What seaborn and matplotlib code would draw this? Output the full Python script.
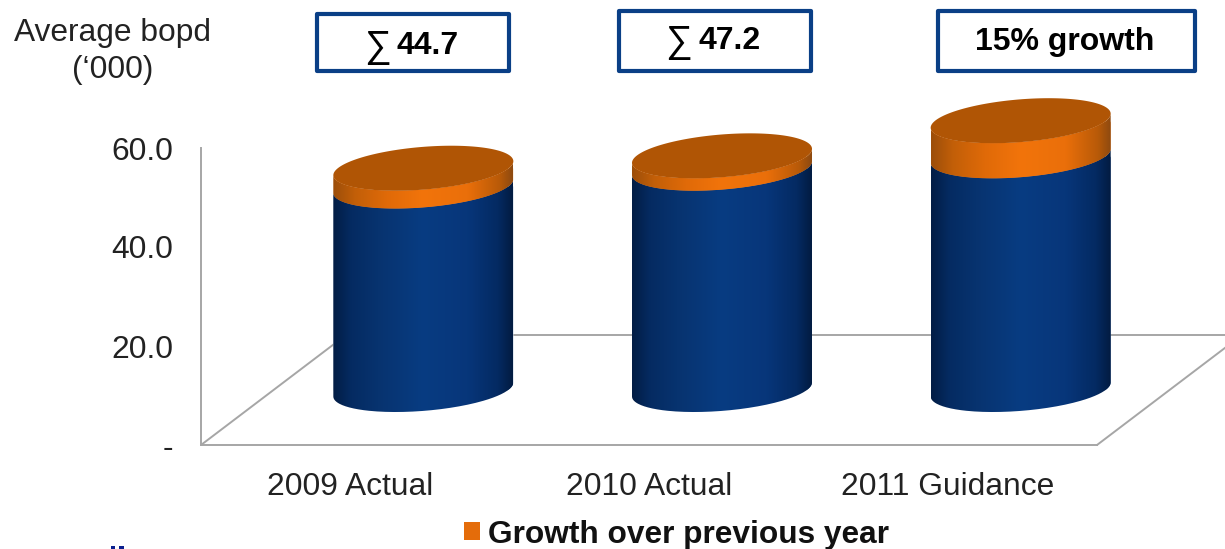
import numpy as np
import pandas as pd
import matplotlib
matplotlib.use("Agg")
import matplotlib.pyplot as plt
import seaborn as sns
from matplotlib.colors import LinearSegmentedColormap
from matplotlib.patches import PathPatch, Patch, Polygon, Rectangle
from matplotlib.path import Path
from matplotlib.transforms import Affine2D

# Production, thousand barrels of oil per day
categories = ["2009 Actual", "2010 Actual", "2011 Guidance"]
base_values = [41.1, 44.7, 47.2]
growth_values = [3.6, 2.5, 7.1]
y_ticks = [0, 20, 40, 60]
callouts = ["44.7", "47.2", "15% growth"]
legend_label = "Growth over previous year"

W, H = 1225, 549
FONT_PT = 22.9
GRAY = "#a6a6a6"
TEXT = "#222222"
NAVY = "#0a3f86"
ORANGE = "#e46c0a"
TOP = "#b05505"

sns.set_theme(style="white")
plt.rcParams["font.family"] = ["Liberation Sans", "DejaVu Sans"]

fig = plt.figure(figsize=(W / 100, H / 100), dpi=100, facecolor="white")
AX_L, AX_R, AX_T, AX_B = 201, 1097, 148, 445
ax = fig.add_axes([AX_L / W, 1 - AX_B / H, (AX_R - AX_L) / W, (AX_B - AX_T) / H])

totals = [b + g for b, g in zip(base_values, growth_values)]
frame = pd.DataFrame({"category": categories, "base": base_values, "total": totals})

BAR_WIDTH = 180 / ((AX_R - AX_L) / 3)
sns.barplot(data=frame, x="category", y="total", order=categories, color=ORANGE,
            saturation=1, width=BAR_WIDTH, errorbar=None, ax=ax, legend=False)
sns.barplot(data=frame, x="category", y="base", order=categories, color="#083c82",
            saturation=1, width=BAR_WIDTH, errorbar=None, ax=ax, legend=False)

ax.set_xlim(-0.5, 2.5)
ax.set_ylim(0, 60)
ax.set_autoscale_on(False)
ax.set_xlabel("")
ax.set_ylabel("")
ax.patch.set_alpha(0)

# Data units per pixel, used for the pseudo-3D depth and the elliptical ends
ux = 3 / (AX_R - AX_L)
uy = 60 / (AX_B - AX_T)

ax.set_yticks(y_ticks)
ax.set_yticklabels(["-" if v == 0 else f"{v:.1f}" for v in y_ticks])
ax.tick_params(axis="y", length=0, pad=20, labelsize=FONT_PT, labelcolor=TEXT)
ax.tick_params(axis="x", length=0, pad=19.5, labelsize=FONT_PT, labelcolor=TEXT)
for side in ("top", "right"):
    ax.spines[side].set_visible(False)
for side in ("left", "bottom"):
    ax.spines[side].set_color(GRAY)
    ax.spines[side].set_linewidth(1.4)

# Floor of the chart, receding behind the category axis
DEPTH_X, DEPTH_Y = 145 * ux, 110 * uy
floor_x = [-0.5, -0.5 + DEPTH_X, 2.5 + DEPTH_X, 2.5]
floor_y = [0, DEPTH_Y, DEPTH_Y, 0]
ax.plot(floor_x, floor_y, color=GRAY, lw=1.4, clip_on=False, zorder=0.5)

# Cylinders stand midway between the axis and the back of the floor
SHIFT_X, SHIFT_Y = 73 * ux, 55.5 * uy
HALF_W = 90 * ux
SLANT = 7 * uy
MINOR = 21.4 * uy

blue_ramp = LinearSegmentedColormap.from_list("side_blue", [
    (0.0, "#021d45"), (0.10, "#052b62"), (0.25, "#07336f"), (0.50, "#083c82"),
    (0.75, "#07367a"), (0.92, "#042a62"), (1.0, "#021c42")])
orange_ramp = LinearSegmentedColormap.from_list("side_orange", [
    (0.0, "#9c4e0a"), (0.12, "#c25f08"), (0.30, "#e06a08"), (0.50, "#f2740b"),
    (0.75, "#ea6f0a"), (0.93, "#b85a08"), (1.0, "#8f4a10")])
shading = np.linspace(0, 1, 400)[None, :]


def rim(cx, cy, t):
    return np.column_stack([cx + HALF_W * np.cos(t),
                            cy + SLANT * np.cos(t) + MINOR * np.sin(t)])


def shade_side(bar, cx, low, high, cmap, z):
    lower = np.linspace(np.pi, 2 * np.pi, 120)
    outline = np.vstack([rim(cx, low, lower), rim(cx, high, lower)[::-1]])
    clip = PathPatch(Path(outline), transform=ax.transData)
    bar.set_transform(Affine2D().translate(SHIFT_X, SHIFT_Y) + ax.transData)
    bar.set_clip_box(fig.bbox)
    bar.set_clip_path(clip)
    img = ax.imshow(shading, cmap=cmap, aspect="auto", interpolation="bilinear",
                    extent=(cx - HALF_W, cx + HALF_W, low - 5 * MINOR, high + 5 * MINOR),
                    zorder=z)
    img.set_clip_box(fig.bbox)
    img.set_clip_path(clip)


orange_bars = ax.patches[:3]
blue_bars = ax.patches[3:6]
for i in range(len(categories)):
    blue, orange = blue_bars[i], orange_bars[i]
    cx = blue.get_x() + blue.get_width() / 2 + SHIFT_X
    floor_level = SHIFT_Y
    mid_level = blue.get_height() + SHIFT_Y
    top_level = orange.get_height() + SHIFT_Y
    shade_side(blue, cx, floor_level, mid_level, blue_ramp, 2)
    shade_side(orange, cx, mid_level, top_level, orange_ramp, 3)
    whole = np.linspace(0, 2 * np.pi, 240)
    ax.add_patch(Polygon(rim(cx, top_level, whole), closed=True, facecolor=TOP,
                         edgecolor="none", clip_on=False, zorder=4))
ax.set_xlim(-0.5, 2.5)
ax.set_ylim(0, 60)


def fx(px):
    return px / W


def fy(px):
    return 1 - px / H


# Unit caption above the value axis
fig.text(fx(113), fy(33), "Average bopd", ha="center", va="center",
         fontsize=FONT_PT, color=TEXT)
fig.text(fx(113), fy(70), "(‘000)", ha="center", va="center",
         fontsize=FONT_PT, color=TEXT)

# Callout boxes over each cylinder; the first two carry a thin sum sign
box_spans = [(317, 509, 14, 71), (619, 811, 11, 71), (938, 1195, 11, 71)]
text_centres = [(428, 46), (730, 41), (1065, 42)]
sum_centres = [(377, 47), (679, 42), None]
for (x0, x1, y0, y1), (tx, ty), sx, label in zip(box_spans, text_centres, sum_centres, callouts):
    fig.add_artist(Rectangle((fx(x0), fy(y1)), (x1 - x0) / W, (y1 - y0) / H,
                             transform=fig.transFigure, facecolor="white",
                             edgecolor=NAVY, linewidth=3.0, joinstyle="round"))
    fig.text(fx(tx), fy(ty), label, ha="center", va="center", fontsize=23,
             fontweight="bold", color="black")
    if sx is not None:
        fig.text(fx(sx[0]), fy(sx[1]), "∑", ha="center", va="center", fontsize=27,
                 fontweight="normal", color="black")

handle = Patch(facecolor=ORANGE, edgecolor="none", label=legend_label)
fig.legend(handles=[handle], loc="center left", bbox_to_anchor=(fx(464), fy(534.5)),
           frameon=False, borderpad=0, borderaxespad=0, handlelength=0.5,
           handleheight=0.5, handletextpad=0.25, prop={"size": 22.8, "weight": "bold"},
           labelcolor="#111111")

# Two small navy marks at the lower margin
for x0, x1 in [(111, 115), (119, 124)]:
    fig.add_artist(Rectangle((fx(x0), 0), (x1 - x0) / W, 3 / H,
                             transform=fig.transFigure, facecolor="#0a1f8f",
                             edgecolor="none"))

fig.savefig("out.png", dpi=100)
